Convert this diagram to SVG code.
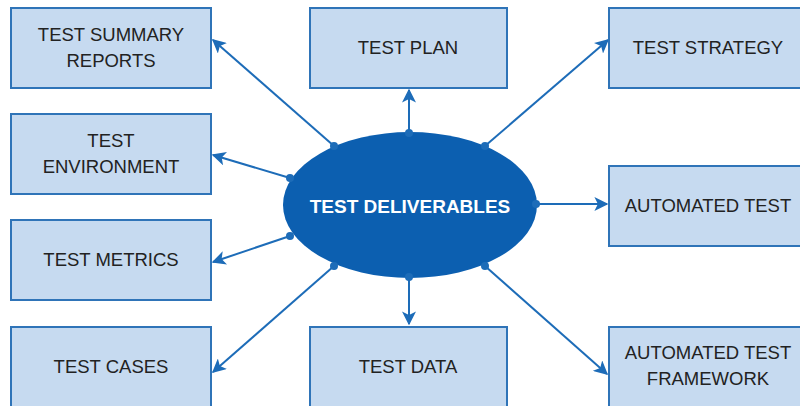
<svg xmlns="http://www.w3.org/2000/svg" width="800" height="406" viewBox="0 0 800 406">
<style>
.box{fill:#c6daf0;stroke:#2f74b8;stroke-width:2}
.t{font-family:"Liberation Sans",Arial,sans-serif;font-size:18.5px;fill:#222;text-anchor:middle}
.c{stroke:#1d6cb8;stroke-width:2;fill:none;marker-end:url(#ah)}
.d{fill:#1d6cb8}
</style>
<defs>
<marker id="ah" viewBox="0 0 10 10" refX="9" refY="5" markerWidth="7" markerHeight="7" orient="auto" markerUnits="strokeWidth">
<path d="M0,0 L10,5 L0,10 L2.5,5 z" fill="#1d6cb8"/>
</marker>
</defs>
<rect width="800" height="406" fill="#fff"/>
<g id="connectors">
<line class="c" x1="334" y1="146" x2="213" y2="40"/>
<line class="c" x1="409" y1="131" x2="409" y2="90"/>
<line class="c" x1="485" y1="146" x2="608" y2="40"/>
<line class="c" x1="290" y1="178" x2="213" y2="155"/>
<line class="c" x1="536" y1="204" x2="607" y2="204"/>
<line class="c" x1="290" y1="236" x2="213" y2="262"/>
<line class="c" x1="334" y1="266" x2="213" y2="372"/>
<line class="c" x1="409" y1="280" x2="409" y2="324"/>
<line class="c" x1="485" y1="266" x2="607" y2="374"/>
</g>
<g id="center">
<ellipse cx="410" cy="205" rx="127" ry="73" fill="#0c5fb0"/>
<circle class="d" cx="334" cy="146" r="4"/>
<circle class="d" cx="409" cy="133" r="4"/>
<circle class="d" cx="485" cy="146" r="4"/>
<circle class="d" cx="290" cy="178" r="4"/>
<circle class="d" cx="536" cy="204" r="4"/>
<circle class="d" cx="290" cy="236" r="4"/>
<circle class="d" cx="334" cy="266" r="4"/>
<circle class="d" cx="409" cy="277" r="4"/>
<circle class="d" cx="485" cy="266" r="4"/>
<text x="410" y="213" font-family="'Liberation Sans',Arial,sans-serif" font-size="19" font-weight="bold" fill="#fff" text-anchor="middle">TEST DELIVERABLES</text>
</g>
<g id="n-summary"><rect class="box" x="11" y="8" width="200" height="80"/><text class="t" x="111" y="41">TEST SUMMARY</text><text class="t" x="111" y="67">REPORTS</text></g>
<g id="n-plan"><rect class="box" x="310" y="8" width="197" height="80"/><text class="t" x="408" y="54">TEST PLAN</text></g>
<g id="n-strategy"><rect class="box" x="609" y="8" width="195" height="80"/><text class="t" x="708" y="54">TEST STRATEGY</text></g>
<g id="n-env"><rect class="box" x="11" y="114" width="200" height="80"/><text class="t" x="111" y="147">TEST</text><text class="t" x="111" y="173">ENVIRONMENT</text></g>
<g id="n-auto"><rect class="box" x="609" y="166" width="195" height="80"/><text class="t" x="708" y="212">AUTOMATED TEST</text></g>
<g id="n-metrics"><rect class="box" x="11" y="220" width="200" height="80"/><text class="t" x="111" y="266">TEST METRICS</text></g>
<g id="n-cases"><rect class="box" x="11" y="327" width="200" height="82"/><text class="t" x="111" y="373">TEST CASES</text></g>
<g id="n-data"><rect class="box" x="310" y="327" width="197" height="82"/><text class="t" x="408" y="373">TEST DATA</text></g>
<g id="n-framework"><rect class="box" x="609" y="327" width="195" height="82"/><text class="t" x="708" y="359">AUTOMATED TEST</text><text class="t" x="708" y="385">FRAMEWORK</text></g>
</svg>
